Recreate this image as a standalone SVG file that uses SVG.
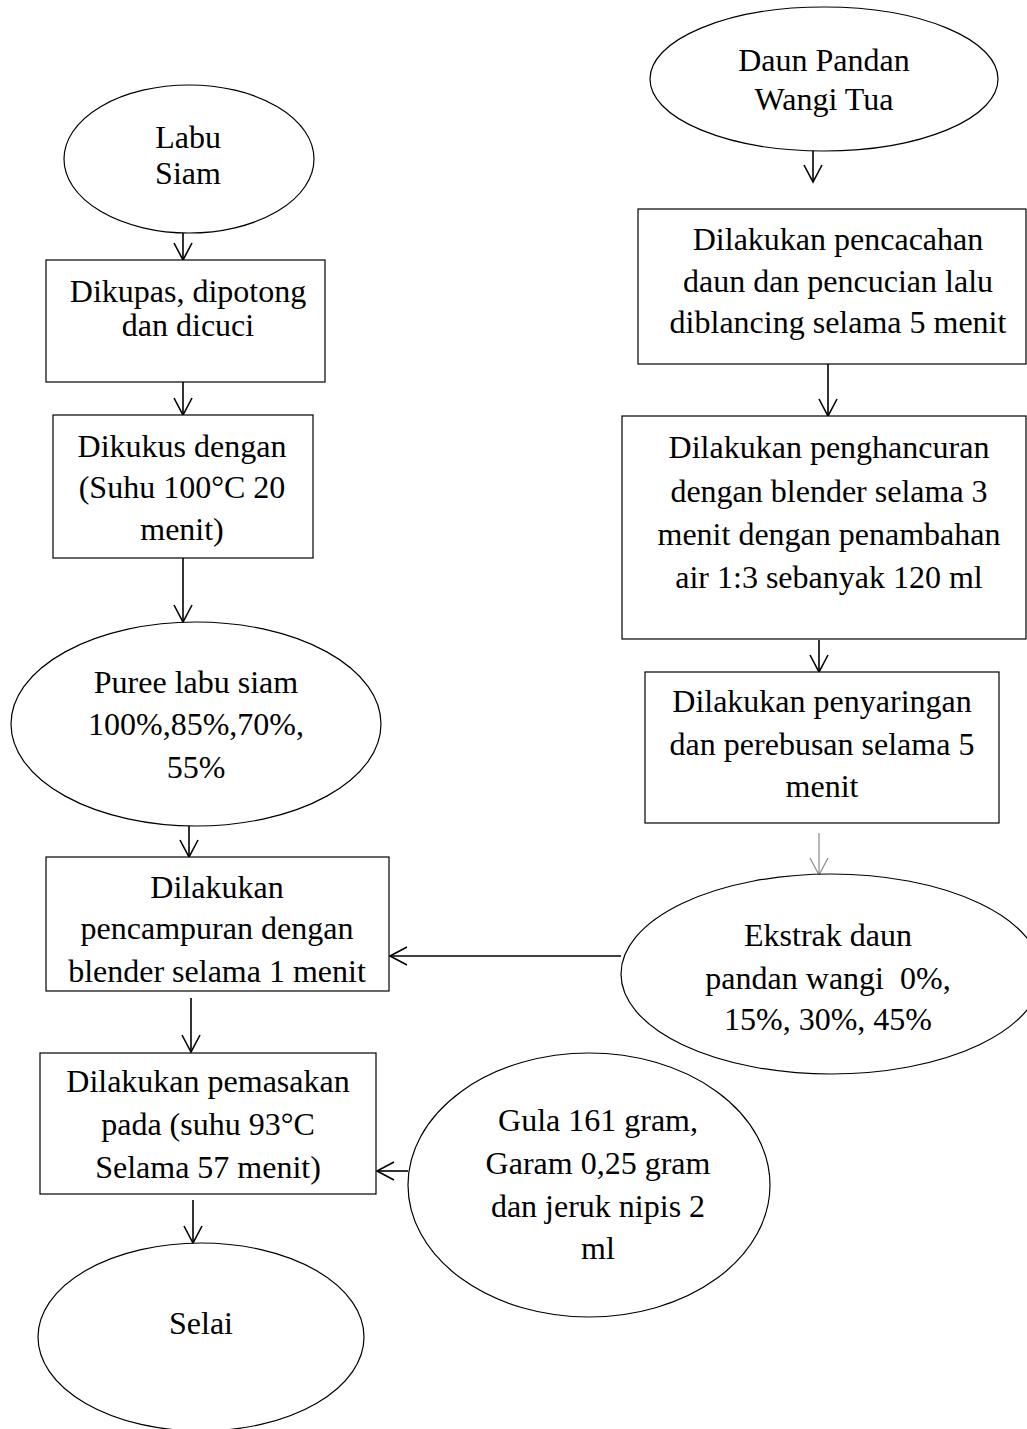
<svg xmlns="http://www.w3.org/2000/svg" width="1027" height="1429" viewBox="0 0 1027 1429">
<defs>
<style>
.n{fill:#fff;stroke:#000;stroke-width:1.2}
.t{font-family:"Liberation Serif","Times New Roman",serif;font-size:32px;fill:#000;text-anchor:middle}
.c{stroke:#000;stroke-width:1.6;fill:none}
.g{stroke:#888;stroke-width:1.2;fill:none}
</style>
<marker id="ah" markerUnits="userSpaceOnUse" markerWidth="24" markerHeight="24" refX="17" refY="10" orient="auto" overflow="visible"><path d="M0,1 L17,10 L0,19" fill="none" stroke="#000" stroke-width="1.6"/></marker>
<marker id="ahg" markerUnits="userSpaceOnUse" markerWidth="24" markerHeight="24" refX="17" refY="10" orient="auto" overflow="visible"><path d="M0,1 L17,10 L0,19" fill="none" stroke="#888" stroke-width="1.2"/></marker>
</defs>
<rect width="1027" height="1429" fill="#fff"/>
<g id="connectors">
<line class="c" x1="183" y1="233" x2="183" y2="260" marker-end="url(#ah)"/>
<line class="c" x1="183" y1="382" x2="183" y2="415" marker-end="url(#ah)"/>
<line class="c" x1="183" y1="558" x2="183" y2="622" marker-end="url(#ah)"/>
<line class="c" x1="189" y1="826" x2="189" y2="857" marker-end="url(#ah)"/>
<line class="c" x1="191" y1="998" x2="191" y2="1052" marker-end="url(#ah)"/>
<line class="c" x1="193" y1="1200" x2="193" y2="1243" marker-end="url(#ah)"/>
<line class="c" x1="813" y1="138" x2="813" y2="182" marker-end="url(#ah)"/>
<line class="c" x1="828" y1="364" x2="828" y2="416" marker-end="url(#ah)"/>
<line class="c" x1="819" y1="640" x2="819" y2="672" marker-end="url(#ah)"/>
<line class="g" x1="819" y1="833" x2="819" y2="875" marker-end="url(#ahg)"/>
<line class="c" x1="621" y1="956" x2="390" y2="956" marker-end="url(#ah)"/>
<line class="c" x1="408" y1="1171" x2="377" y2="1171" marker-end="url(#ah)"/>
</g>
<g id="labu">
<ellipse class="n" cx="189" cy="159" rx="125" ry="74"/>
<text class="t" x="188" y="148">Labu</text>
<text class="t" x="188" y="184">Siam</text>
</g>
<g id="dikupas">
<rect class="n" x="46" y="260" width="279" height="122"/>
<text class="t" x="188" y="302">Dikupas, dipotong</text>
<text class="t" x="188" y="336">dan dicuci</text>
</g>
<g id="dikukus">
<rect class="n" x="53" y="415" width="260" height="143"/>
<text class="t" x="182" y="457">Dikukus dengan</text>
<text class="t" x="182" y="498">(Suhu 100°C 20</text>
<text class="t" x="182" y="540">menit)</text>
</g>
<g id="puree">
<ellipse class="n" cx="196" cy="724" rx="185" ry="102"/>
<text class="t" x="196" y="693">Puree labu siam</text>
<text class="t" x="196" y="735">100%,85%,70%,</text>
<text class="t" x="196" y="778">55%</text>
</g>
<g id="pencampuran">
<rect class="n" x="46" y="857" width="343" height="134"/>
<text class="t" x="217" y="898">Dilakukan</text>
<text class="t" x="217" y="939">pencampuran dengan</text>
<text class="t" x="217" y="982">blender selama 1 menit</text>
</g>
<g id="pemasakan">
<rect class="n" x="40" y="1053" width="336" height="141"/>
<text class="t" x="208" y="1092">Dilakukan pemasakan</text>
<text class="t" x="208" y="1135">pada (suhu 93°C</text>
<text class="t" x="208" y="1178">Selama 57 menit)</text>
</g>
<g id="selai">
<ellipse class="n" cx="201" cy="1337" rx="163" ry="94"/>
<text class="t" x="201" y="1334">Selai</text>
</g>
<g id="daun">
<ellipse class="n" cx="824" cy="79" rx="174" ry="72"/>
<text class="t" x="824" y="71">Daun Pandan</text>
<text class="t" x="824" y="110">Wangi Tua</text>
</g>
<g id="pencacahan">
<rect class="n" x="638" y="209" width="388" height="155"/>
<text class="t" x="838" y="250">Dilakukan pencacahan</text>
<text class="t" x="838" y="292">daun dan pencucian lalu</text>
<text class="t" x="838" y="333">diblancing selama 5 menit</text>
</g>
<g id="penghancuran">
<rect class="n" x="622" y="416" width="404" height="223"/>
<text class="t" x="829" y="458">Dilakukan penghancuran</text>
<text class="t" x="829" y="502">dengan blender selama 3</text>
<text class="t" x="829" y="545">menit dengan penambahan</text>
<text class="t" x="829" y="588">air 1:3 sebanyak 120 ml</text>
</g>
<g id="penyaringan">
<rect class="n" x="645" y="672" width="354" height="151"/>
<text class="t" x="822" y="712">Dilakukan penyaringan</text>
<text class="t" x="822" y="755">dan perebusan selama 5</text>
<text class="t" x="822" y="797">menit</text>
</g>
<g id="ekstrak">
<ellipse class="n" cx="831" cy="974" rx="210" ry="100"/>
<text class="t" x="828" y="946">Ekstrak daun</text>
<text class="t" x="828" y="989" xml:space="preserve">pandan wangi  0%,</text>
<text class="t" x="828" y="1030">15%, 30%, 45%</text>
</g>
<g id="gula">
<ellipse class="n" cx="589" cy="1185" rx="181" ry="132"/>
<text class="t" x="598" y="1131">Gula 161 gram,</text>
<text class="t" x="598" y="1174">Garam 0,25 gram</text>
<text class="t" x="598" y="1217">dan jeruk nipis 2</text>
<text class="t" x="598" y="1259">ml</text>
</g>
</svg>
